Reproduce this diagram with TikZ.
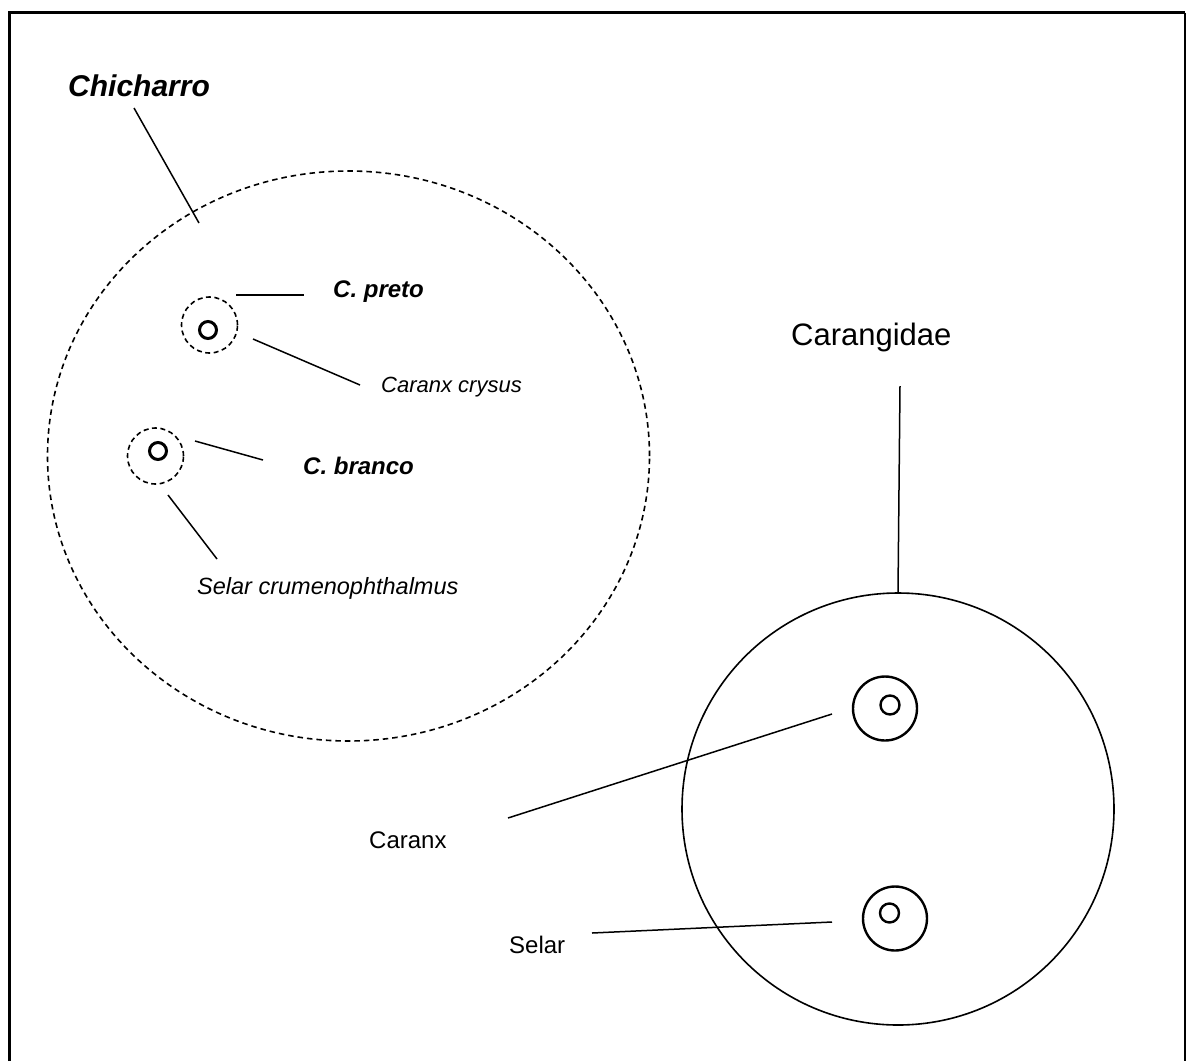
\documentclass[tikz,border=0pt]{standalone}
\usepackage{fontspec}
\setmainfont{Liberation Sans}
\usetikzlibrary{shapes.geometric}
\begin{document}
\begin{tikzpicture}[x=1pt,y=-1pt,
  lbl/.style={anchor=base west,inner sep=0pt,text=black},
  leader/.style={draw=black,line width=1.5pt},
  groupring/.style={draw=black,line width=1.6pt,dash pattern=on 5.5pt off 4pt},
  smallring/.style={circle,draw=black,line width=1.6pt,dash pattern=on 5pt off 3.5pt,minimum size=56pt,inner sep=0pt},
  genusring/.style={circle,draw=black,line width=2.4pt,minimum size=64pt,inner sep=0pt},
  core/.style={circle,draw=black,line width=3pt,minimum size=17pt,inner sep=0pt},
  speccore/.style={circle,draw=black,line width=2.4pt,minimum size=19pt,inner sep=0pt}]

% page area and frame
\useasboundingbox (0,0) rectangle (1186,1061);
\fill[white] (0,0) rectangle (1186,1061);
\draw[line width=3pt] (9.5,1061) -- (9.5,12.5) -- (1185,12.5);
\draw[line width=1.8pt] (1185,12.5) -- (1185,1061);

% ---- Chicharro group ----
\node[ellipse,groupring,minimum width=602pt,minimum height=570pt,inner sep=0pt] (chich) at (348.5,456) {};
\node[lbl,font=\fontsize{30}{36}\selectfont\bfseries\itshape] (chichlbl) at (68,96) {Chicharro};
\coordinate (chichA) at (134,108);
\coordinate (chichB) at (199,223);
\draw[leader] (chichA) -- (chichB);

% C. preto
\node[smallring] (preto) at (209.5,325) {};
\node[core] (pretocore) at (208,330) {};
\node[lbl,font=\fontsize{24}{29}\selectfont\bfseries\itshape] (pretolbl) at (333,297) {C. preto};
\coordinate (pretoA) at (236,295);
\coordinate (pretoB) at (304,295);
\draw[leader] (pretoA) -- (pretoB);
\node[lbl,font=\fontsize{22}{27}\selectfont\itshape] (crysus) at (381,392) {Caranx crysus};
\coordinate (crysusA) at (253,339);
\coordinate (crysusB) at (360,385);
\draw[leader] (crysusA) -- (crysusB);

% C. branco
\node[smallring] (branco) at (155.5,456) {};
\node[core] (brancocore) at (158,451) {};
\node[lbl,font=\fontsize{24}{29}\selectfont\bfseries\itshape] (brancolbl) at (303,474) {C. branco};
\coordinate (brancoA) at (195,441);
\coordinate (brancoB) at (263,460);
\draw[leader] (brancoA) -- (brancoB);
\node[lbl,font=\fontsize{23.5}{28}\selectfont\itshape] (crumen) at (197,594) {Selar crumenophthalmus};
\coordinate (crumenA) at (168,495);
\coordinate (crumenB) at (217,559);
\draw[leader] (crumenA) -- (crumenB);

% ---- Carangidae family ----
\node[circle,draw=black,line width=1.6pt,minimum size=432pt,inner sep=0pt] (family) at (898,809) {};
\node[lbl,font=\fontsize{31}{37}\selectfont] (famlbl) at (791,345) {Carangidae};
\coordinate (famA) at (900,386);
\draw[leader] (famA) -- (family.north);

% Caranx
\node[genusring] (caranx) at (885,708.5) {};
\node[speccore] (caranxcore) at (890,705) {};
\node[lbl,font=\fontsize{24}{29}\selectfont] (caranxlbl) at (369,848) {Caranx};
\coordinate (caranxA) at (508,818);
\coordinate (caranxB) at (832,714);
\draw[leader] (caranxA) -- (caranxB);

% Selar
\node[genusring] (selar) at (895,918.5) {};
\node[speccore] (selarcore) at (889.5,913) {};
\node[lbl,font=\fontsize{24}{29}\selectfont] (selarlbl) at (509,953) {Selar};
\coordinate (selarA) at (592,933);
\coordinate (selarB) at (832,922);
\draw[leader] (selarA) -- (selarB);
\end{tikzpicture}
\end{document}
